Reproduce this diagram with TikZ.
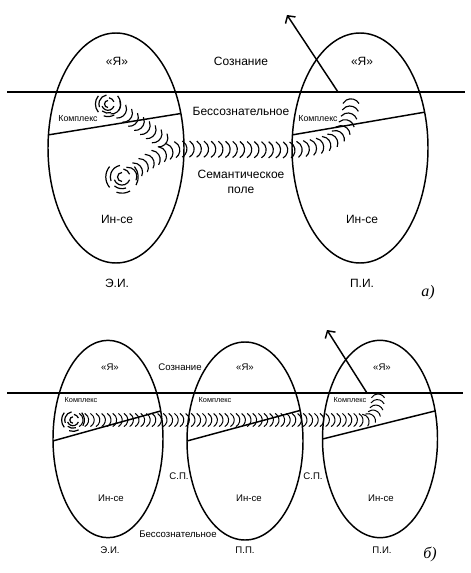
\documentclass[tikz,border=0pt]{standalone}
\usepackage{fontspec}
\setmainfont{Liberation Sans}
\newfontfamily\captfont{Liberation Serif}
\usetikzlibrary{positioning, shapes.geometric, arrows.meta, decorations.markings}

\begin{document}
\begin{tikzpicture}[
    x=0.75pt, y=-0.75pt,
    >={Straight Barb[length=4pt,width=9pt]},
    font=\fontsize{9}{11.25}\selectfont,
    %% ── node styles ──────────────────────────────────────────
    psyche/.style   = {draw, ellipse, line width=1.1pt, inner sep=0pt, outer sep=0pt},
    bigpsy/.style   = {psyche, minimum width=102pt, minimum height=172.5pt},
    smallpsy/.style = {psyche, minimum width=84pt,  minimum height=148pt},
    txt/.style      = {inner sep=1pt, align=center},
    subtxt/.style   = {txt, font=\fontsize{7.2}{8.6}\selectfont},
    cplx/.style     = {txt, font=\fontsize{6.6}{7.5}\selectfont},
    subcplx/.style  = {txt, font=\fontsize{5.5}{6.5}\selectfont},
    panel/.style    = {txt, font=\fontsize{12}{14}\selectfont\captfont\itshape},
    %% ── line styles ──────────────────────────────────────────
    border/.style   = {line width=1.4pt},
    split/.style    = {line width=1.1pt},
    arr/.style      = {->, line width=1.1pt},
    swirl/.style    = {line width=0.9pt},
    wave/.style     = {decorate, decoration={markings,
        mark=between positions 0 and 1 step 5.4pt with
        {\draw[line width=0.85pt] (-3.5pt,-6.06pt)
            arc[start angle=-60, end angle=60, radius=7pt];}}},
    subwave/.style  = {decorate, decoration={markings,
        mark=between positions 0 and 1 step 4.2pt with
        {\draw[line width=0.75pt] (-2.84pt,-4.93pt)
            arc[start angle=-60, end angle=60, radius=5.7pt];}}}
]
\useasboundingbox (0,0) rectangle (470,573);

%% ── Panel a): two persons ────────────────────────────────────
\node[bigpsy] (eiA) at (116,148) {};
\node[bigpsy] (piA) at (360,148) {};

\coordinate (surfA1) at (7,92);
\coordinate (surfA2) at (465,92);
\draw[border] (surfA1) -- (surfA2);

\draw[split] (eiA.169) -- (eiA.28);
\draw[split] (piA.169) -- (piA.29);

\node[txt]  (egoA)   at (117,61)  {«Я»};
\node[txt]  (consA)  at (241,61)  {Сознание};
\node[txt]  (egoA2)  at (362,61)  {«Я»};
\node[txt]  (uncA)   at (241,111) {Бессознательное};
\node[cplx] (cxA)    at (78,119)  {Комплекс};
\node[cplx] (cxA2)   at (318,119) {Комплекс};
\node[txt]  (semA)   at (241,182) {Семантическое\\поле};
\node[txt]  (selfA)  at (117,219) {Ин-се};
\node[txt]  (selfA2) at (362,219) {Ин-се};
\node[txt]  (eiLblA) at (117,283) {Э.И.};
\node[txt]  (piLblA) at (362,283) {П.И.};
\node[panel] (capA)  at (428,293) {а)};

%% ── Panel a): complex vortices and waves ─────────────────────
\coordinate (swA) at (108,104);
\coordinate (swB) at (122,177);
\coordinate (cxSrc)  at (119,110);
\coordinate (cxJoin) at (172,147);
\coordinate (semIn)  at (135,171);
\coordinate (semL)   at (182,149);
\coordinate (semR)   at (290,150);
\coordinate (baseA)  at (351,95);
\coordinate (outA)   at (287,15);

\path[wave] (cxSrc) -- (cxJoin);
\path[wave] (semIn) .. controls (150,160) and (165,150) .. (semL)
    -- (semR) .. controls (328,147) and (352,140) .. (baseA);

\draw[arr] (338,92) -- (outA);

%% ── Panel б): three persons ──────────────────────────────────
\node[smallpsy, minimum width=82.5pt] (eiB) at (108,439) {};
\node[smallpsy, minimum width=87pt, minimum height=148.5pt] (ppB) at (245,441) {};
\node[smallpsy, minimum width=86.25pt] (piB) at (380,439) {};

\coordinate (surfB1) at (7,393);
\coordinate (surfB2) at (463,393);
\draw[border] (surfB1) -- (surfB2);

\draw[split] (eiB.182) -- (eiB.28);
\draw[split] (ppB.180) -- (ppB.29);
\draw[split] (piB.180) -- (piB.27);

\node[subtxt]  (egoB)   at (110,367) {«Я»};
\node[subtxt]  (consB)  at (180,367) {Сознание};
\node[subtxt]  (egoB2)  at (245,367) {«Я»};
\node[subtxt]  (egoB3)  at (382,367) {«Я»};
\node[subcplx] (cxB)    at (81,400)  {Комплекс};
\node[subcplx] (cxB2)   at (215,400) {Комплекс};
\node[subcplx] (cxB3)   at (350,400) {Комплекс};
\node[subtxt]  (spB)    at (179,476) {С.П.};
\node[subtxt]  (spB2)   at (313,476) {С.П.};
\node[subtxt]  (selfB)  at (111,498) {Ин-се};
\node[subtxt]  (selfB2) at (249,498) {Ин-се};
\node[subtxt]  (selfB3) at (381,498) {Ин-се};
\node[subtxt]  (uncB)   at (178,534) {Бессознательное};
\node[subtxt]  (eiLblB) at (110,550) {Э.И.};
\node[subtxt]  (ppLblB) at (245,550) {П.П.};
\node[subtxt]  (piLblB) at (382,550) {П.И.};
\node[panel]   (capB)   at (430,554) {б)};

%% ── Panel б): complex vortex and wave chain ──────────────────
\coordinate (swC)    at (73,420);
\coordinate (chainL) at (83,420);
\coordinate (chainR) at (362,420);
\coordinate (baseB)  at (378,394);
\coordinate (outB)   at (327,330);

\path[subwave] (chainL) -- (chainR) .. controls (374,420) and (378,410) .. (baseB);

\draw[arr] (367,393) -- (outB);

%% ── vortices ─────────────────────────────────────────────────
\foreach \c/\s in {swA/1.05, swB/1.35, swC/0.95}{
  \foreach \r/\a/\b in {2.5/90/270, 4.5/200/340, 4.5/20/80, 6.5/100/200,
                        6.5/230/290, 9/140/220, 9/250/300, 9/-30/40}
    \draw[swirl] (\c) ++(\a:\s*\r*1pt) arc[start angle=\a, end angle=\b, radius=\s*\r*1pt];
}

\end{tikzpicture}
\end{document}
